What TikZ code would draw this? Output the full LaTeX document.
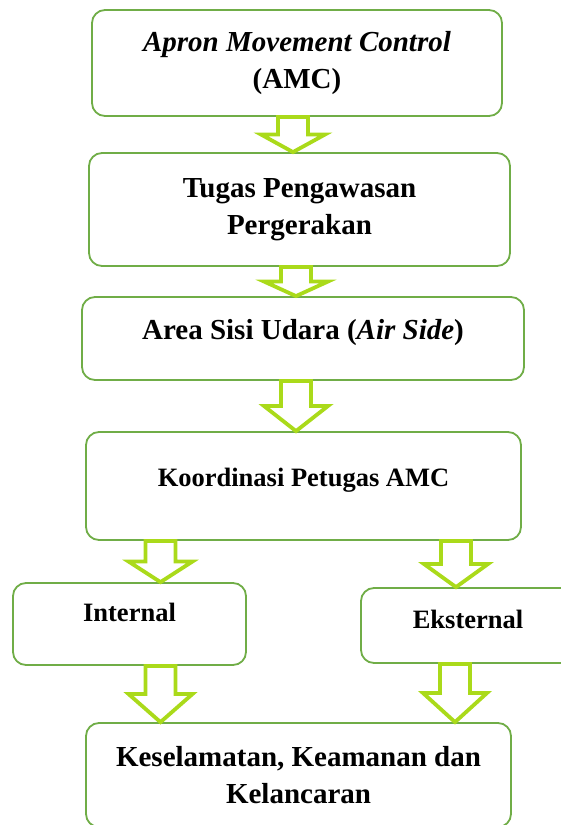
\documentclass[tikz,border=0pt]{standalone}
\usepackage{fontspec}
\setmainfont{Liberation Serif}
\usetikzlibrary{calc, positioning}
\definecolor{boxgreen}{RGB}{112,173,71}
\definecolor{limegreen}{RGB}{170,218,26}
\tikzstyle{block} = [draw=boxgreen, line width=1.8pt, fill=white, rectangle, rounded corners=13pt, inner sep=0pt, align=center, font=\fontsize{29}{37}\selectfont\bfseries]
\tikzstyle{smallblock} = [block, font=\fontsize{26.5}{37}\selectfont\bfseries]
\tikzstyle{hollow} = [draw=limegreen, line width=3.8pt, fill=white]
\newcommand{\blockarrow}[2]{%
  \draw[hollow] let \p1=#1, \p2=#2, \n1={0.5*(\y1+\y2)} in
    (\x1-15,\y1) -- (\x1+15,\y1) -- (\x1+15,\n1) -- (\x1+32,\n1) -- (\x1,\y2)
    -- (\x1-32,\n1) -- (\x1-15,\n1) -- cycle;}

\begin{document}
\begin{tikzpicture}[x=1pt, y=1pt]
	\useasboundingbox (0,0) rectangle (561,-825);
	\clip (0,0) rectangle (561,-825);
	\node [block, minimum width=410pt, minimum height=106pt] (amc) at (297,-63) {\textit{Apron Movement Control}\\(AMC)};
	\node [block, minimum width=421pt, minimum height=113pt] (tugas) at (299.5,-209.5) {Tugas Pengawasan\\Pergerakan};
	\node [block, minimum width=442pt, minimum height=83pt, text height=20pt, text depth=18pt] (area) at (303,-338.5) {Area Sisi Udara (\textit{Air Side})};
	\node [smallblock, minimum width=435pt, minimum height=108pt, text height=20pt, text depth=20pt] (koord) at (303.5,-486) {Koordinasi Petugas AMC};
	\node [smallblock, minimum width=233pt, minimum height=82pt, text height=20pt, text depth=26pt] (internal) at (129.5,-624) {Internal};
	\node [smallblock, minimum width=214pt, minimum height=75pt, text height=20pt, text depth=15pt] (eksternal) at (468,-625.5) {Eksternal};
	\node [block, minimum width=425pt, minimum height=104pt] (hasil) at (298.5,-775) {Keselamatan, Keamanan dan\\Kelancaran};

	\blockarrow{($(amc.south)+(-4,0)$)}{(tugas.north)}
	\blockarrow{($(tugas.south)+(-3.5,0)$)}{(area.north)}
	\blockarrow{($(area.south)+(-7,0)$)}{(koord.north)}
	\blockarrow{($(koord.south -| internal.north)+(31,0)$)}{(internal.north)}
	\blockarrow{($(koord.south -| eksternal.north)+(-12,0)$)}{(eksternal.north)}
	\blockarrow{($(internal.south)+(31,0)$)}{(hasil.north)}
	\blockarrow{($(eksternal.south)+(-13,0)$)}{(hasil.north)}
\end{tikzpicture}
\end{document}
